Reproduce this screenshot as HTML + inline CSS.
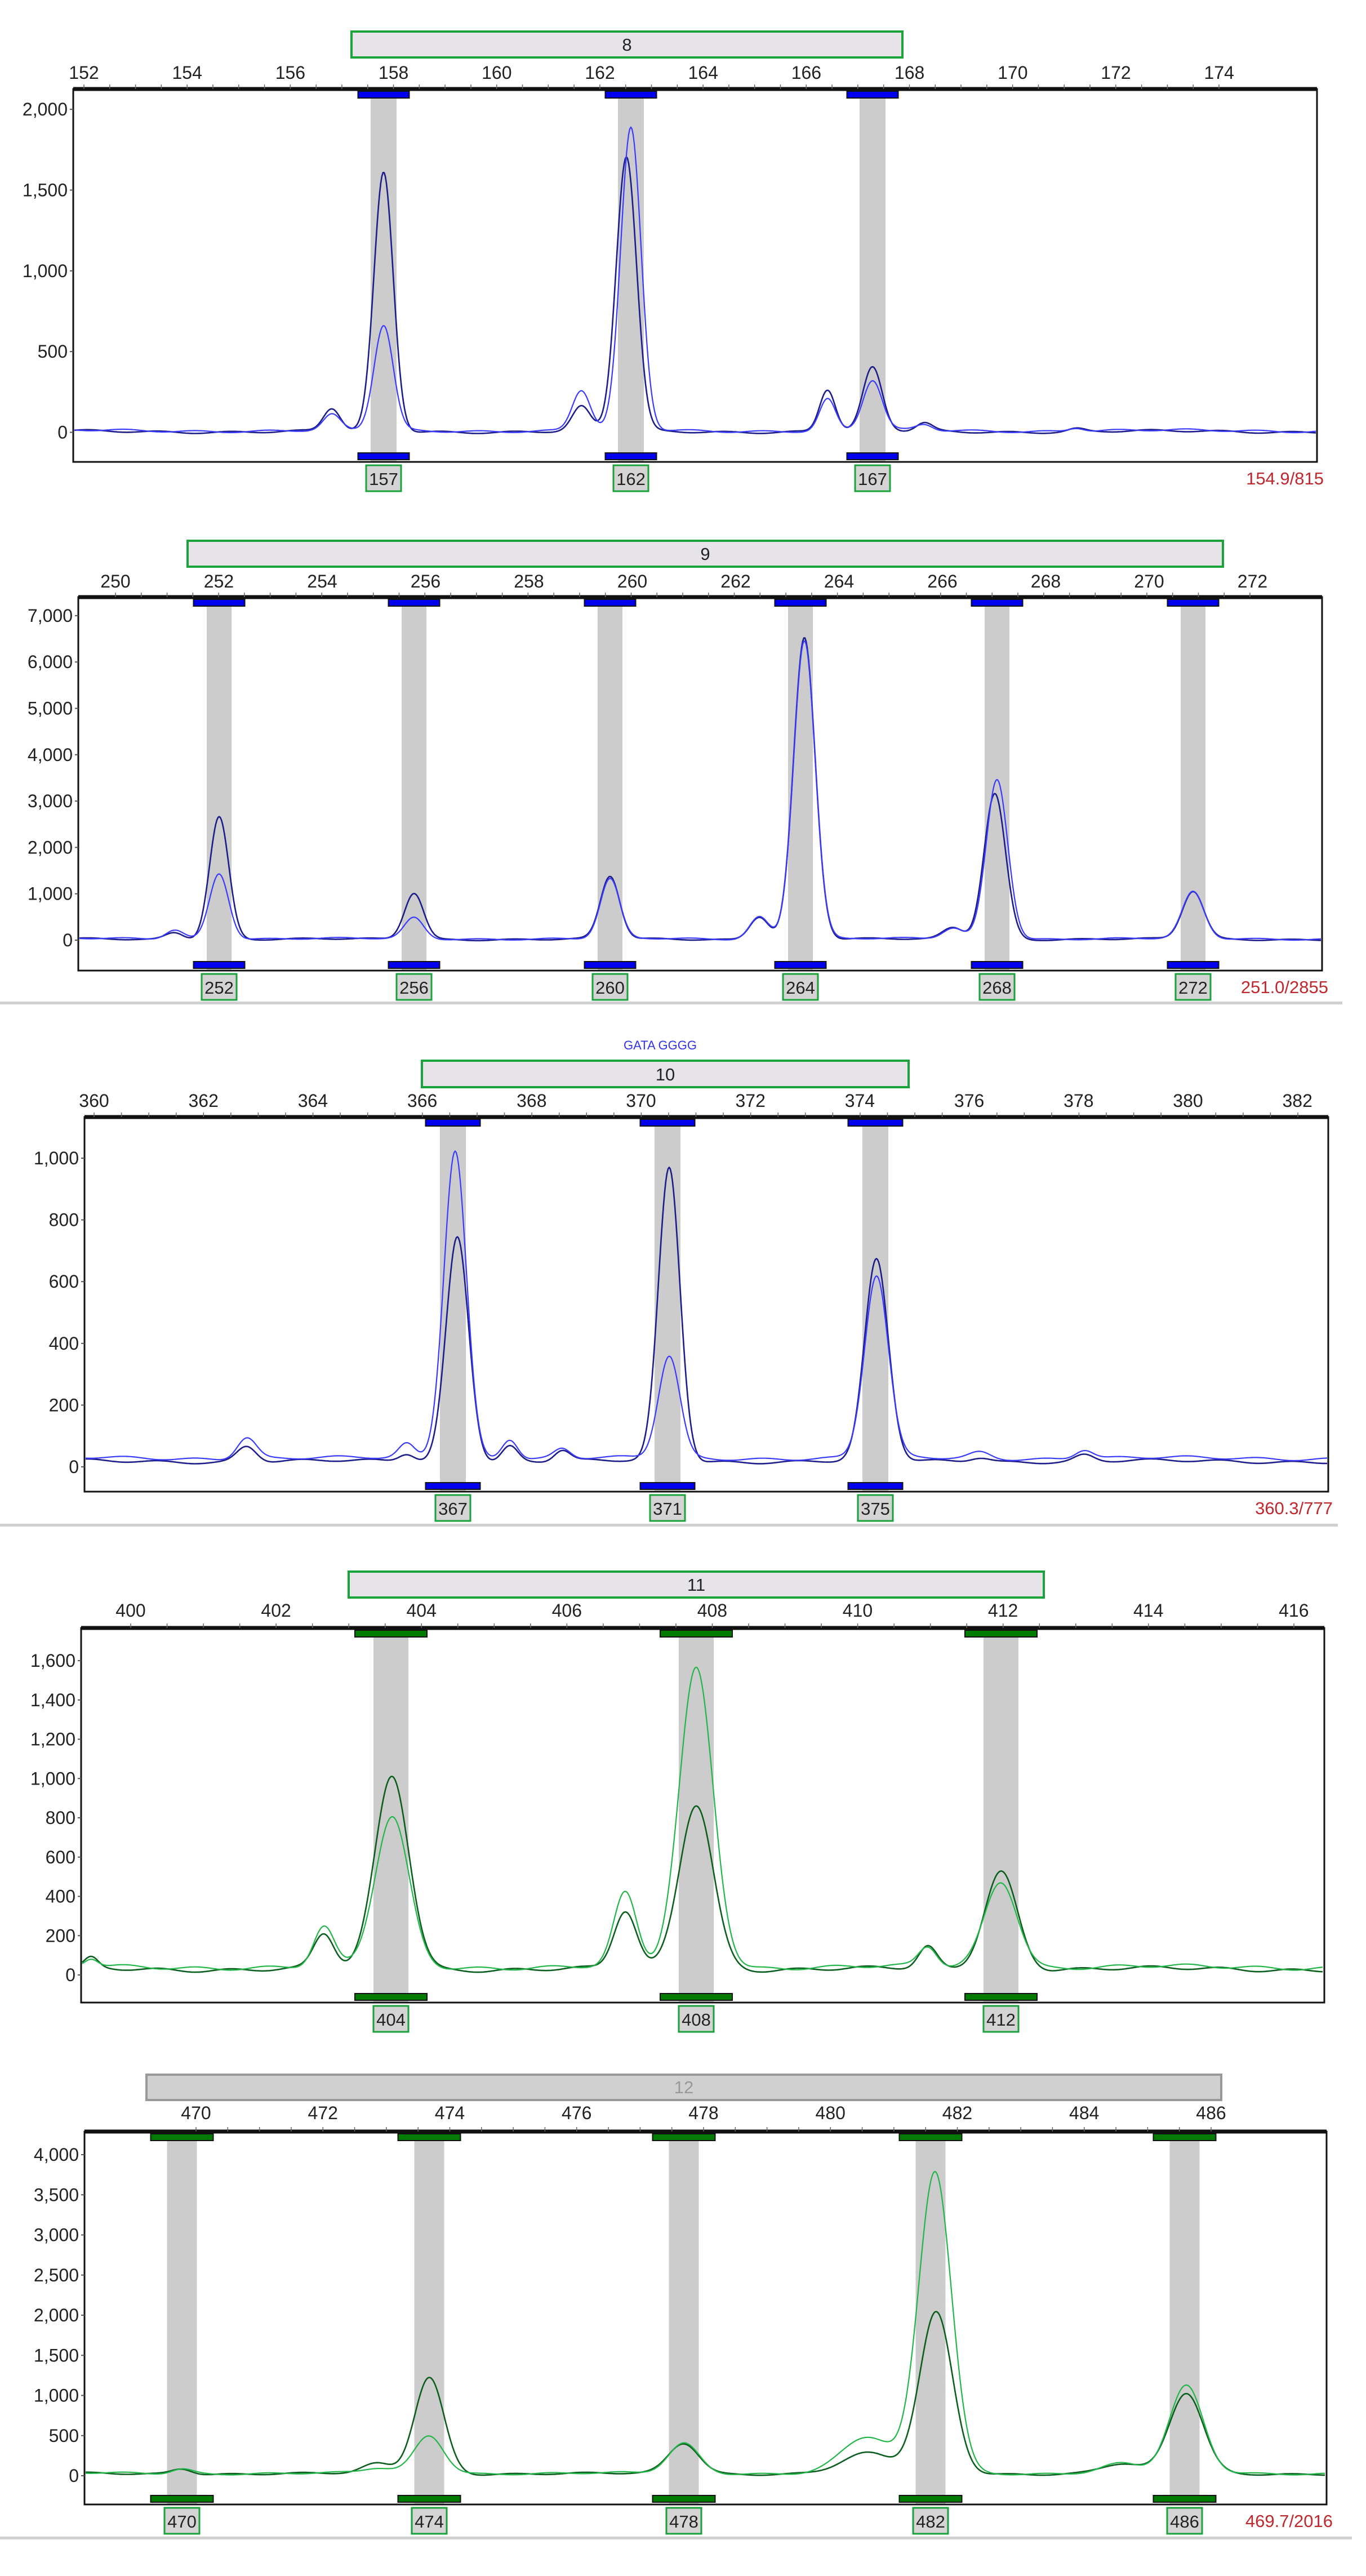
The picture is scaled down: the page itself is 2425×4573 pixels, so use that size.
<!DOCTYPE html>
<html><head><meta charset="utf-8"><style>
html,body{margin:0;padding:0;background:#fff;}
svg{display:block;}
text{font-family:"Liberation Sans",Arial,sans-serif;}
</style></head><body>
<svg id="s" xmlns="http://www.w3.org/2000/svg" width="2425" height="4573" viewBox="0 0 2425 4573"></svg>
<script>
var S=document.getElementById('s'),NS='http://www.w3.org/2000/svg';
function el(t,a,txt){var e=document.createElementNS(NS,t);for(var k in a)e.setAttribute(k,a[k]);if(txt!==undefined)e.textContent=txt;S.appendChild(e);return e;}
function fmt(v){return v>=1000?(Math.floor(v/1000)+','+String(v%1000).padStart(3,'0')):String(v);}
function panel(P){
  el('rect',{x:P.bar[0],y:P.bar[1],width:P.bar[2]-P.bar[0],height:P.bar[3]-P.bar[1],fill:P.barFill||'#e6e4e8',stroke:P.barStroke||'#1aa33a','stroke-width':4});
  el('text',{x:(P.bar[0]+P.bar[2])/2,y:P.bar[3]-12,'font-size':31,'text-anchor':'middle',fill:P.barText||'#222'},P.name);
  var L=P.L,R=P.R,T=P.T,B=P.B;
  P.bins.forEach(function(b){el('rect',{x:b[0]-P.gw/2,y:T,width:P.gw,height:B-T,fill:'#cccccc'});});
  function y(v){return P.base-v*P.k;}
  function noise(x,s){return Math.sin(x*0.05+s)*P.nz+Math.sin(x*0.013+s*2)*P.nz;}
  [['d',P.cd,2.6],['l',P.cl,2.2]].forEach(function(tr,ti){
    var d='';
    for(var x=L+2;x<=R-2;x+=2){
      var v=(ti==0?P.b0:P.b1)+noise(x,ti*3);
      P.pk.forEach(function(p){var h=ti==0?p[2]:p[3];var dx=(x-p[0]-(ti==0?(p[4]||0):0))/p[1];v+=h*Math.exp(-0.5*dx*dx);});
      d+=(d?'L':'M')+x+' '+y(v).toFixed(1);
    }
    el('path',{d:d,fill:'none',stroke:tr[1],'stroke-width':tr[2],'stroke-linejoin':'round'});
  });
  el('rect',{x:L,y:T,width:R-L,height:B-T,fill:'none',stroke:'#111','stroke-width':3});
  el('line',{x1:L,y1:T,x2:R,y2:T,stroke:'#111','stroke-width':7});
  for(var i=0;i<=P.nmin;i++){var xx=P.t0x+(P.t1x-P.t0x)*i/P.nmin;if(xx>L&&xx<R)el('line',{x1:xx,y1:T-8,x2:xx,y2:T,stroke:'#666','stroke-width':1.5});}
  P.tl.forEach(function(t){el('text',{x:t[1],y:P.ty,'font-size':32,'text-anchor':'middle',fill:'#222'},t[0]);});
  for(var v=0;v<=P.ymax;v+=P.ystep){var yy=y(v);el('line',{x1:L-6,y1:yy,x2:L,y2:yy,stroke:'#555','stroke-width':2});
    el('text',{x:L-10,y:yy+11,'font-size':32,'text-anchor':'end',fill:'#222'},fmt(v));}
  P.bins.forEach(function(b){
    [T+4,B-16].forEach(function(yy){el('rect',{x:b[0]-P.mw/2,y:yy,width:P.mw,height:12,fill:P.mc,stroke:'#111','stroke-width':2});});
    el('rect',{x:b[0]-31,y:B+6,width:62,height:46,fill:'#d4d4d4',stroke:'#1aa33a','stroke-width':3});
    el('text',{x:b[0],y:B+41,'font-size':31,'text-anchor':'middle',fill:'#222'},b[1]);
  });
  if(P.red)el('text',{x:P.redx,y:B+40,'font-size':31,'text-anchor':'end',fill:'#c0282d'},P.red);
  if(P.sep)el('rect',{x:0,y:P.sep,width:P.sepw||2383,height:5,fill:'#d0d0d0'});
}
function ticks(start,x0,step,n){var a=[];for(var i=0;i<n;i++)a.push([String(start+2*i),x0+step*i]);return a;}
var BD='#1c1c8a',BL='#3a3aff',GD='#0b5e1e',GL='#22b548';
panel({name:'8',bar:[624,56,1602,102],L:130,R:2338,T:158,B:820,base:767.5,k:0.2867,ymax:2000,ystep:500,
 tl:ticks(152,149,183.2,12),ty:140,t0x:149,t1x:2164,nmin:44,gw:46,mw:91,mc:'#0000ee',cd:BD,cl:BL,b0:5,b1:10,nz:6,
 bins:[[681,'157'],[1120,'162'],[1549,'167']],
 pk:[[681,17,1600,650],[1120,18,1700,1870,-8],[1549,17,390,310],[589,15,140,95],[1032,16,150,250],[1469,14,260,195],[1641,14,50,35],[1911,14,18,22]],
 red:'154.9/815',redx:2350});
panel({name:'9',bar:[333,960,2171,1006],L:139,R:2347,T:1060,B:1723,base:1669,k:0.0823,ymax:7000,ystep:1000,
 tl:ticks(250,205,183.5,12),ty:1043,t0x:205,t1x:2219,nmin:44,gw:44,mw:91,mc:'#0000ee',cd:BD,cl:BL,b0:20,b1:30,nz:15,
 bins:[[389,'252'],[735,'256'],[1083,'260'],[1421,'264'],[1770,'268'],[2118,'272']],
 pk:[[389,17,2650,1420],[735,17,1000,450],[1083,17,1350,1280],[1428,19,6500,6450],[1770,19,3150,3450,-4],[2118,19,1030,1000],[310,16,150,200],[1348,17,500,480],[1692,18,250,230]],
 red:'251.0/2855',redx:2358,sep:1778});
el('text',{x:1172,y:1863,'font-size':22,'text-anchor':'middle',fill:'#3333ee'},'GATA GGGG');
panel({name:'10',bar:[749,1883,1613,1930],L:150,R:2358,T:1983,B:2648,base:2604,k:0.548,ymax:1000,ystep:200,
 tl:ticks(360,167,194.2,12),ty:1965,t0x:167,t1x:2304,nmin:44,gw:46,mw:97,mc:'#0000ee',cd:BD,cl:BL,b0:18,b1:28,nz:4,
 bins:[[804,'367'],[1185,'371'],[1554,'375']],
 pk:[[808,20,730,1000,4],[1188,19,950,330],[1556,21,650,590],[438,17,50,70],[905,14,50,65],[998,14,35,30],[1740,18,15,20],[1925,16,20,30],[722,14,25,45]],
 red:'360.3/777',redx:2366,sep:2705,sepw:2375});
panel({name:'11',bar:[619,2790,1853,2836],L:144,R:2351,T:2890,B:3555,base:3506,k:0.3487,ymax:1600,ystep:200,
 tl:ticks(400,232,258.1,9),ty:2870,t0x:232,t1x:2297,nmin:32,gw:62,mw:128,mc:'#007a00',cd:GD,cl:GL,b0:30,b1:40,nz:8,
 bins:[[694,'404'],[1236,'408'],[1777,'412']],
 pk:[[696,30,980,760],[1236,30,840,1520],[1777,29,500,440],[575,18,175,200],[1110,20,290,370],[1647,16,110,100],[162,12,50,40]]});
panel({name:'12',bar:[260,3683,2168,3728],barFill:'#d0d0d0',barStroke:'#999',barText:'#999',L:150,R:2355,T:3784,B:4446,base:4395,k:0.1425,ymax:4000,ystep:500,
 tl:ticks(470,348,225.25,9),ty:3762,t0x:348,t1x:2150,nmin:32,gw:53,mw:111,mc:'#007a00',cd:GD,cl:GL,b0:25,b1:30,nz:10,
 bins:[[323,'470'],[762,'474'],[1214,'478'],[1652,'482'],[2103,'486']],
 pk:[[323,18,70,60],[762,26,1200,470],[1214,27,380,370],[1660,29,2000,3750,2],[2106,30,1000,1080],[670,25,120,60],[1540,45,250,450],[1990,35,120,120]],
 red:'469.7/2016',redx:2366,sep:4503,sepw:2400});
</script>
</body></html>
